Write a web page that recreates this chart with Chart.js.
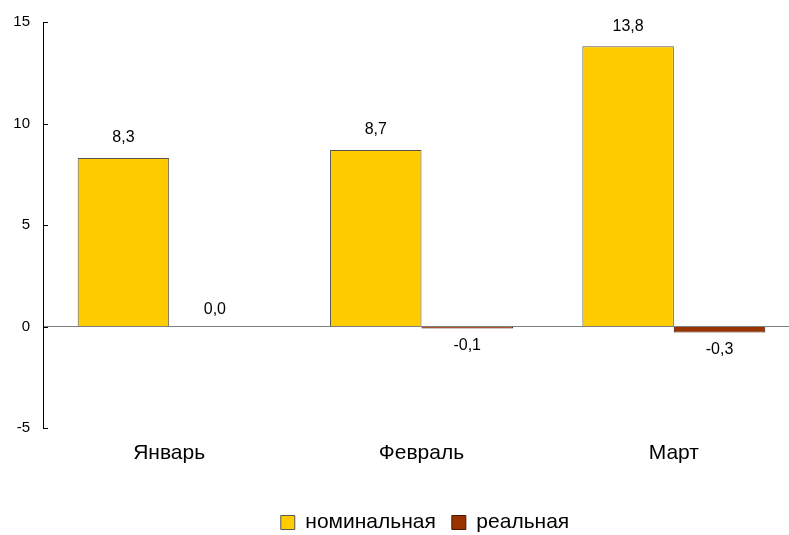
<!DOCTYPE html>
<html>
<head>
<meta charset="utf-8">
<script src="https://cdn.jsdelivr.net/npm/chart.js@4"></script>
<style>
  body { margin: 0; background: #fff; overflow: hidden; }
  #wrap { width: 800px; height: 535px; }
</style>
</head>
<body>
<div id="wrap"><canvas id="chart"></canvas></div>
<script>
var months = ["Январь", "Февраль", "Март"];
var nominal = [8.3, 8.7, 13.8];
var real = [0.0, -0.1, -0.3];
var seriesNames = ["номинальная", "реальная"];
var yTicks = [-5, 0, 5, 10, 15];

var FONT = "'Liberation Sans', Arial, sans-serif";

// value labels over / under the bars, comma decimals
var valueLabels = {
  id: "valueLabels",
  afterDatasetsDraw: function(chart) {
    var ctx = chart.ctx;
    ctx.save();
    ctx.font = "16px " + FONT;
    ctx.fillStyle = "#000";
    ctx.textAlign = "center";
    ctx.textBaseline = "middle";
    chart.data.datasets.forEach(function(ds, di) {
      chart.getDatasetMeta(di).data.forEach(function(bar, i) {
        var v = ds.data[i];
        var txt = v.toFixed(1).replace(".", ",");
        var y = v < 0 ? bar.y + 17 : bar.y - (v === 0 ? 17 : 20);
        ctx.fillText(txt, bar.x, y);
      });
    });
    ctx.restore();
  }
};

// short inward ticks on the value axis
var innerTicks = {
  id: "innerTicks",
  afterDraw: function(chart) {
    var ctx = chart.ctx;
    var y = chart.scales.y;
    ctx.save();
    ctx.strokeStyle = "#000";
    ctx.lineWidth = 1;
    yTicks.forEach(function(t) {
      var py = Math.round(y.getPixelForValue(t)) + 0.5;
      ctx.beginPath();
      ctx.moveTo(y.right, py);
      ctx.lineTo(y.right + 5, py);
      ctx.stroke();
    });
    ctx.restore();
  }
};

// nudge the legend a bit lower and to the right, like the original
var moveLegend = {
  id: "moveLegend",
  afterLayout: function(chart) {
    var lg = chart.legend;
    lg.top += 8; lg.bottom += 8;
    lg.left += 25; lg.right += 25;
  }
};

var ctx = document.getElementById("chart");
var graph = new Chart(ctx, {
  type: "bar",
  data: {
    labels: months,
    datasets: [{
      label: seriesNames[0],
      data: nominal,
      backgroundColor: "#FFCC00",
      borderColor: "#555555",
      borderWidth: 1
    }, {
      label: seriesNames[1],
      data: real,
      backgroundColor: "#993300",
      borderColor: "#4a1800",
      borderWidth: 1
    }]
  },
  options: {
    responsive: true,
    maintainAspectRatio: false,
    animation: false,
    layout: { padding: { top: 20, right: 0, left: 0, bottom: 0 } },
    datasets: { bar: { categoryPercentage: 0.725, barPercentage: 1 } },
    plugins: {
      legend: {
        position: "bottom",
        labels: {
          color: "#000",
          font: { size: 21, family: FONT },
          boxWidth: 14,
          boxHeight: 14,
          padding: 16
        }
      },
      tooltip: { enabled: false }
    },
    scales: {
      x: {
        afterFit: function(axis) { axis.height = 60; },
        grid: { display: false, drawTicks: false },
        border: { display: false },
        ticks: {
          color: "#000",
          padding: 13,
          font: { size: 21, family: FONT }
        }
      },
      y: {
        min: -5,
        max: 15,
        afterBuildTicks: function(axis) {
          axis.ticks = yTicks.map(function(v) { return { value: v }; });
        },
        afterFit: function(axis) { axis.width = 43; },
        grid: {
          drawTicks: false,
          color: function(c) { return c.tick && c.tick.value === 0 ? "#808080" : "rgba(0,0,0,0)"; },
          lineWidth: 1
        },
        border: { display: true, color: "#000", width: 1 },
        ticks: {
          color: "#000",
          padding: 13,
          font: { size: 15, family: FONT }
        }
      }
    }
  },
  plugins: [valueLabels, innerTicks, moveLegend]
});
</script>
</body>
</html>
